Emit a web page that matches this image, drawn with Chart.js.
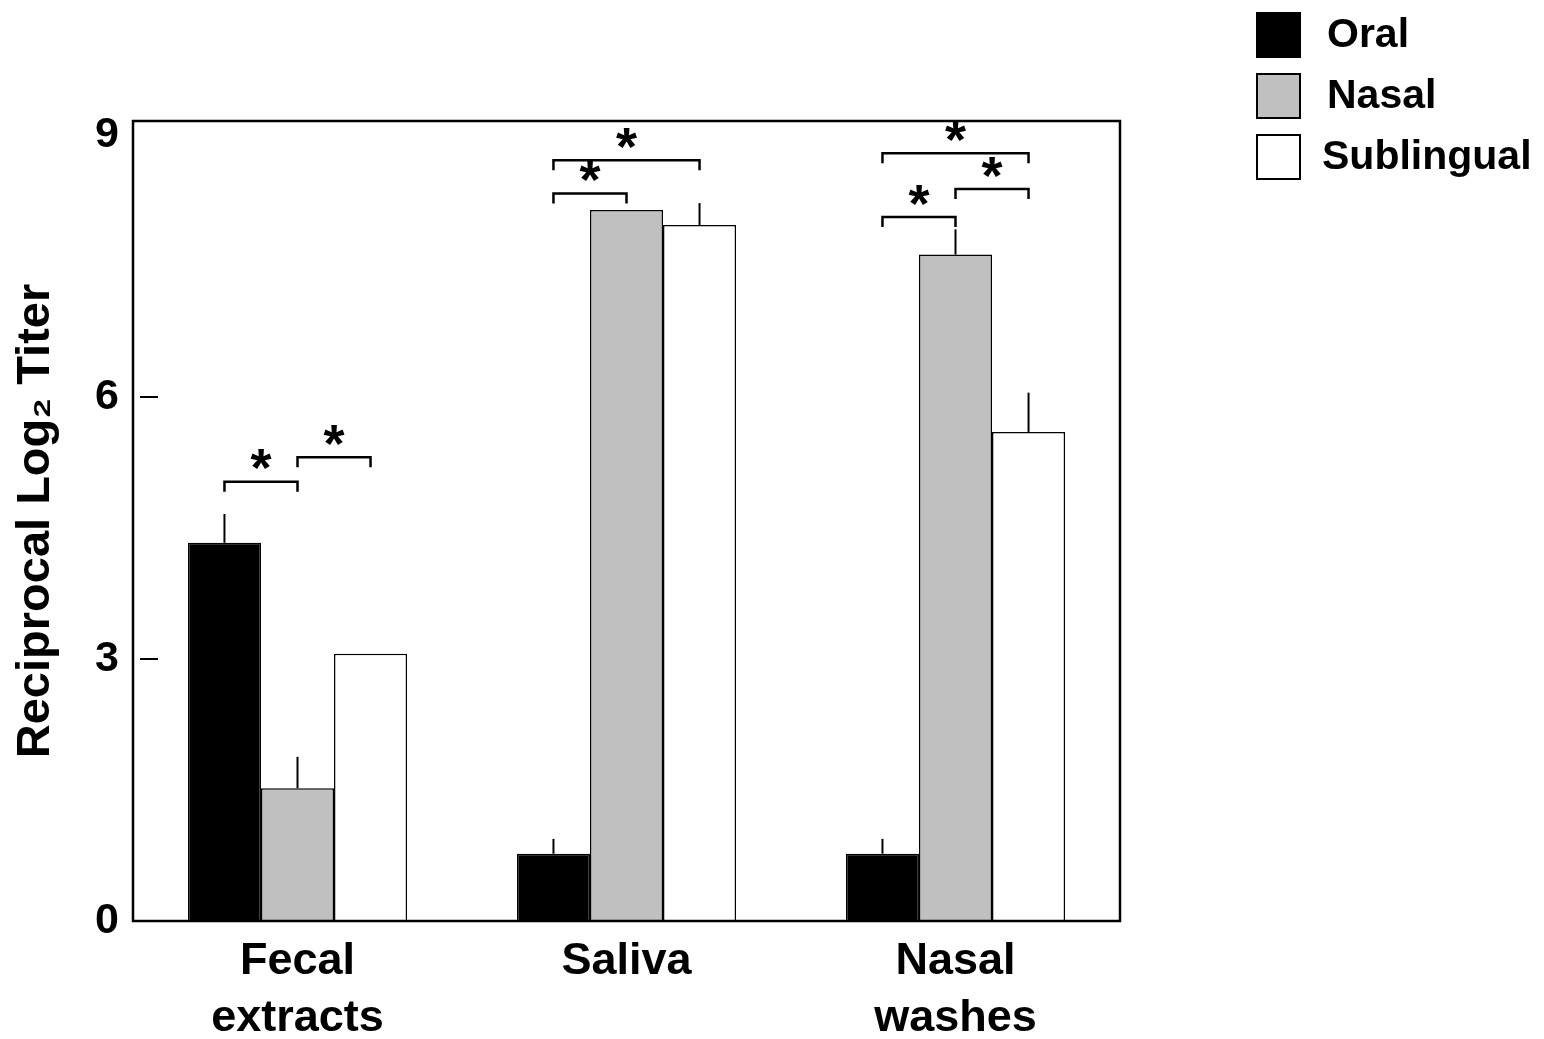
<!DOCTYPE html>
<html>
<head>
<meta charset="utf-8">
<script src="https://cdn.jsdelivr.net/npm/chart.js@4"></script>
<style>
    body { margin: 0; background: #fff; }
    #wrap { width: 1544px; height: 1039px; }
</style>
</head>
<body>
<div id="wrap"><canvas id="chart"></canvas></div>
<script>
const categories = [['Fecal', 'extracts'], 'Saliva', ['Nasal', 'washes']];
const seriesNames = ['Oral', 'Nasal', 'Sublingual'];
const oralValues = [4.33, 0.77, 0.77];
const nasalValues = [1.52, 8.14, 7.63];
const sublingualValues = [3.06, 7.97, 5.60];
const oralErrors = [0.33, 0.17, 0.17];
const nasalErrors = [0.36, 0, 0.29];
const sublingualErrors = [0, 0.25, 0.45];
const yTicks = [0, 3, 6, 9];
// [group, from series, to series, height]
const brackets = [
    [0, 0, 1, 5.03],
    [0, 1, 2, 5.31],
    [1, 0, 1, 8.33],
    [1, 0, 2, 8.71],
    [2, 0, 1, 8.06],
    [2, 1, 2, 8.38],
    [2, 0, 2, 8.79]
];

const fills = ['#000000', '#c0c0c0', '#ffffff'];
const errors = [oralErrors, nasalErrors, sublingualErrors];
const FONT = '"Liberation Sans", Arial, sans-serif';

Chart.defaults.font.family = FONT;
Chart.defaults.color = '#000';

const decorations = {
    id: 'decorations',
    afterDatasetsDraw(chart) {
        const ctx = chart.ctx;
        const area = chart.chartArea;
        const y = chart.scales.y;
        ctx.save();
        ctx.strokeStyle = '#000';
        ctx.lineCap = 'butt';

        // error bars (upper only)
        ctx.lineWidth = 2;
        errors.forEach((errs, d) => {
            const meta = chart.getDatasetMeta(d);
            errs.forEach((e, i) => {
                if (!e) return;
                const bar = meta.data[i];
                const v = chart.data.datasets[d].data[i];
                ctx.beginPath();
                ctx.moveTo(bar.x, y.getPixelForValue(v));
                ctx.lineTo(bar.x, y.getPixelForValue(v + e));
                ctx.stroke();
            });
        });

        // significance brackets
        ctx.lineWidth = 2.5;
        ctx.fillStyle = '#000';
        ctx.font = 'bold 54px ' + FONT;
        ctx.textAlign = 'center';
        ctx.textBaseline = 'alphabetic';
        brackets.forEach(b => {
            const x1 = chart.getDatasetMeta(b[1]).data[b[0]].x;
            const x2 = chart.getDatasetMeta(b[2]).data[b[0]].x;
            const py = y.getPixelForValue(b[3]);
            ctx.beginPath();
            ctx.moveTo(x1, py + 10);
            ctx.lineTo(x1, py);
            ctx.lineTo(x2, py);
            ctx.lineTo(x2, py + 10);
            ctx.stroke();
            const m = ctx.measureText('*');
            const cy = py - 22;
            ctx.fillText('*', (x1 + x2) / 2, cy + (m.actualBoundingBoxAscent - m.actualBoundingBoxDescent) / 2);
        });

        // inner tick marks
        ctx.lineWidth = 2;
        yTicks.forEach(v => {
            if (v === 0 || v === 9) return;
            const py = y.getPixelForValue(v);
            ctx.beginPath();
            ctx.moveTo(area.left + 7, py);
            ctx.lineTo(area.left + 25, py);
            ctx.stroke();
        });

        // frame
        ctx.lineWidth = 2.5;
        ctx.strokeRect(area.left, area.top, area.right - area.left, area.bottom - area.top);
        ctx.restore();
    },
    afterDraw(chart) {
        const ctx = chart.ctx;
        ctx.save();
        const boxTops = [13, 74, 135];
        ctx.font = 'bold 41px ' + FONT;
        ctx.textAlign = 'left';
        ctx.textBaseline = 'middle';
        seriesNames.forEach((name, i) => {
            ctx.fillStyle = fills[i];
            ctx.fillRect(1257, boxTops[i], 43, 44);
            ctx.strokeStyle = '#000';
            ctx.lineWidth = 2;
            ctx.strokeRect(1257, boxTops[i], 43, 44);
            ctx.fillStyle = '#000';
            ctx.fillText(name, i === 2 ? 1322 : 1327, boxTops[i] + 23);
        });
        ctx.restore();
    }
};

new Chart(document.getElementById('chart'), {
    type: 'bar',
    data: {
        labels: categories,
        datasets: [
            { label: seriesNames[0], data: oralValues, backgroundColor: fills[0], borderColor: '#000', borderWidth: 1.5 },
            { label: seriesNames[1], data: nasalValues, backgroundColor: fills[1], borderColor: '#000', borderWidth: 1.5 },
            { label: seriesNames[2], data: sublingualValues, backgroundColor: fills[2], borderColor: '#000', borderWidth: 1.5 }
        ]
    },
    options: {
        responsive: true,
        maintainAspectRatio: false,
        animation: false,
        layout: { padding: { top: 121, right: 424, bottom: 0, left: 0 } },
        datasets: { bar: { categoryPercentage: 0.666, barPercentage: 1.0 } },
        plugins: {
            legend: { display: false },
            tooltip: { enabled: false }
        },
        scales: {
            x: {
                grid: { display: false },
                border: { display: false },
                ticks: {
                    font: { size: 45, weight: 'bold', lineHeight: 1.27 },
                    padding: 4,
                    maxRotation: 0
                },
                afterFit(scale) { scale.height = 118; }
            },
            y: {
                min: 0,
                max: 9.16,
                grid: { display: false, drawTicks: false },
                border: { display: false },
                afterBuildTicks(scale) { scale.ticks = yTicks.map(v => ({ value: v })); },
                ticks: {
                    font: { size: 43, weight: 'bold' },
                    padding: 14
                },
                title: {
                    display: true,
                    text: 'Reciprocal Log\u2082 Titer',
                    font: { size: 47, weight: 'bold' },
                    padding: { top: 8, bottom: 0 }
                },
                afterFit(scale) { scale.width = 133; }
            }
        }
    },
    plugins: [decorations]
});
</script>
</body>
</html>
